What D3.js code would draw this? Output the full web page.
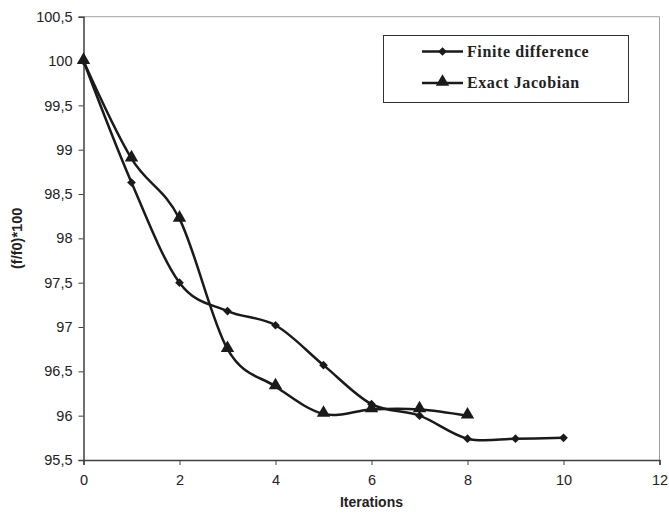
<!DOCTYPE html>
<html>
<head>
<meta charset="utf-8">
<script src="https://cdn.jsdelivr.net/npm/d3@7"></script>
<style>
body { margin: 0; background: #fff; }
svg { display: block; }
</style>
</head>
<body>
<svg id="chart" width="669" height="521"></svg>
<script>
const xTicks = [0, 2, 4, 6, 8, 10, 12];
const yTicks = [95.5, 96, 96.5, 97, 97.5, 98, 98.5, 99, 99.5, 100, 100.5];
const fdX = [0, 1, 2, 3, 4, 5, 6, 7, 8, 9, 10];
const fdY = [100, 98.63, 97.5, 97.18, 97.02, 96.57, 96.13, 96.0, 95.74, 95.74, 95.75];
const ejX = [0, 1, 2, 3, 4, 5, 6, 7, 8];
const ejY = [100, 98.9, 98.22, 96.75, 96.33, 96.02, 96.07, 96.07, 96.0];
const seriesNames = ["Finite difference", "Exact Jacobian"];

const svg = d3.select("#chart");
const m = { left: 83.5, right: 659.5, top: 16.7, bottom: 460 };
const x = d3.scaleLinear().domain([0, 12]).range([m.left, m.right]);
const y = d3.scaleLinear().domain([95.5, 100.5]).range([m.bottom, m.top]);

svg.append("path")
  .attr("d", `M${m.left},${m.top}H${m.right}V${m.bottom}`)
  .attr("fill", "none").attr("stroke", "#a0a0a0").attr("stroke-width", 1);

const fmt = d => String(d).replace(".", ",");

const xAxis = svg.append("g").attr("transform", `translate(0,${m.bottom})`)
  .call(d3.axisBottom(x).tickValues(xTicks).tickSize(5).tickPadding(10).tickFormat(fmt));
const yAxis = svg.append("g").attr("transform", `translate(${m.left},0)`)
  .call(d3.axisLeft(y).tickValues(yTicks).tickSize(5).tickPadding(6).tickFormat(fmt));
[xAxis, yAxis].forEach(a => {
  a.select(".domain").attr("stroke", "#404040").attr("stroke-width", 1.5);
  a.selectAll(".tick line").attr("stroke", "#404040");
  a.selectAll("text").attr("font-family", "Liberation Sans, Arial, sans-serif")
    .attr("font-size", 14.5).attr("fill", "#222");
});

svg.append("text").attr("x", (m.left + m.right) / 2).attr("y", 507)
  .attr("text-anchor", "middle").attr("font-family", "Liberation Sans, Arial, sans-serif")
  .attr("font-weight", "bold").attr("font-size", 14).attr("fill", "#222").text("Iterations");
svg.append("text").attr("transform", `translate(22,${(m.top + m.bottom) / 2}) rotate(-90)`)
  .attr("text-anchor", "middle").attr("font-family", "Liberation Sans, Arial, sans-serif")
  .attr("font-weight", "bold").attr("font-size", 14.5).attr("fill", "#222").text("(f/f0)*100");

const line = d3.line().x(d => x(d[0])).y(d => y(d[1])).curve(d3.curveCardinal.tension(0));
const fd = fdX.map((v, i) => [v, fdY[i]]);
const ej = ejX.map((v, i) => [v, ejY[i]]);

const col = "#1a1a1a";
svg.append("path").attr("d", line(fd)).attr("fill", "none").attr("stroke", col).attr("stroke-width", 2.5);
svg.append("path").attr("d", line(ej)).attr("fill", "none").attr("stroke", col).attr("stroke-width", 2.5);

const diamond = d3.symbol().type(d3.symbolSquare).size(38);
const tri = d3.symbol().type(d3.symbolTriangle).size(78);

svg.selectAll(".fdm").data(fd).join("path").attr("class", "fdm")
  .attr("transform", d => `translate(${x(d[0])},${y(d[1])}) rotate(45)`).attr("d", diamond).attr("fill", col);
svg.selectAll(".ejm").data(ej).join("path").attr("class", "ejm")
  .attr("transform", d => `translate(${x(d[0])},${y(d[1]) - 1})`).attr("d", tri).attr("fill", col);

const lg = svg.append("g");
lg.append("rect").attr("x", 383.5).attr("y", 35.5).attr("width", 245).attr("height", 67)
  .attr("fill", "#fff").attr("stroke", "#333").attr("stroke-width", 1);
const rows = [56.5, 88];
rows.forEach((ry, i) => {
  lg.append("line").attr("x1", 422).attr("x2", 463).attr("y1", ry - 5).attr("y2", ry - 5)
    .attr("stroke", col).attr("stroke-width", 2.5);
  lg.append("path").attr("transform", `translate(442.5,${ry - 5 - (i ? 1 : 0)})${i ? "" : " rotate(45)"}`)
    .attr("d", i ? tri : diamond).attr("fill", col);
  lg.append("text").attr("x", 467).attr("y", ry)
    .attr("font-family", "Liberation Serif, Times New Roman, serif").attr("font-weight", "bold")
    .attr("font-size", 16).attr("letter-spacing", 0.6).attr("fill", "#222").text(seriesNames[i]);
});
</script>
</body>
</html>
